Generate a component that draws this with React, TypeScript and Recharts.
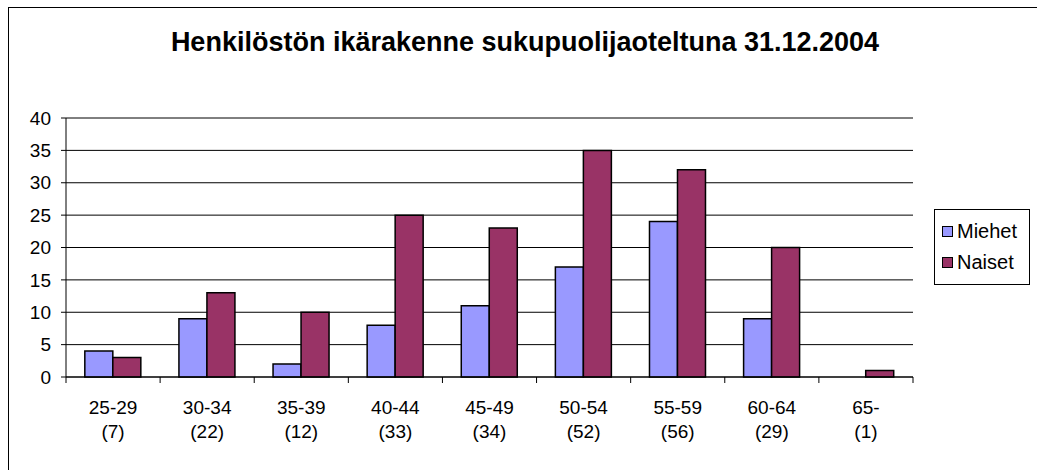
import React from "react";
import { BarChart, Bar, XAxis, YAxis, CartesianGrid, ReferenceLine } from "recharts";

const ageGroups = ["25-29", "30-34", "35-39", "40-44", "45-49", "50-54", "55-59", "60-64", "65-"];
const groupTotals = [7, 22, 12, 33, 34, 52, 56, 29, 1];
const miehet = [4, 9, 2, 8, 11, 17, 24, 9, 0];
const naiset = [3, 13, 10, 25, 23, 35, 32, 20, 1];
const yTicks = [0, 5, 10, 15, 20, 25, 30, 35, 40];

const data = ageGroups.map((group, i) => ({
    group,
    total: groupTotals[i],
    Miehet: miehet[i],
    Naiset: naiset[i],
}));

const WIDTH = 1037;
const HEIGHT = 470;
const Y_AXIS_WIDTH = 60;
const X_AXIS_HEIGHT = 30;
// plot area in the reference: x 66..913, y 118..377
const margin = { top: 118, right: 124, bottom: 93 - X_AXIS_HEIGHT, left: 66 - Y_AXIS_WIDTH };
const band = (WIDTH - 66 - margin.right) / ageGroups.length;
const font = "'Liberation Sans', Arial, sans-serif";

const colors = { Miehet: "#9999FF", Naiset: "#993366" };

// x-axis tick: Excel style, tick marks sit between the categories
const AgeTick = (props: any) => {
    const { x, y, payload, index } = props;
    const isLast = index === ageGroups.length - 1;
    return (
        <g>
            <line x1={x - band / 2} x2={x - band / 2} y1={y} y2={y + 6} stroke="#000" />
            {isLast && <line x1={x + band / 2} x2={x + band / 2} y1={y} y2={y + 6} stroke="#000" />}
            <text x={x} y={y + 37} textAnchor="middle" fontSize={19} fill="#000" fontFamily={font}>
                {payload.value}
            </text>
            <text x={x} y={y + 61} textAnchor="middle" fontSize={19} fill="#000" fontFamily={font}>
                ({groupTotals[index]})
            </text>
        </g>
    );
};

const LegendBox = () => (
    <div
        style={{
            position: "absolute",
            left: 934,
            top: 209,
            border: "1px solid #000",
            width: 96,
            height: 76,
            boxSizing: "border-box",
            background: "#fff",
            fontFamily: font,
            fontSize: 20,
            padding: "6px 0 0 7px",
            color: "#000",
        }}
    >
        {(["Miehet", "Naiset"] as const).map((name) => (
            <div key={name} style={{ display: "flex", alignItems: "center", height: 31 }}>
                <span
                    style={{
                        display: "inline-block",
                        width: 9,
                        height: 9,
                        border: "1.5px solid #000",
                        background: colors[name],
                        marginRight: 4,
                    }}
                />
                {name}
            </div>
        ))}
    </div>
);

export default function App() {
    return (
        <div style={{ position: "absolute", left: 0, top: 0, width: WIDTH, height: HEIGHT, overflow: "hidden", background: "#fff" }}>
            {/* outer chart border */}
            <div style={{ position: "absolute", left: 8, top: 7, width: 1100, height: 500, borderLeft: "1px solid #000", borderTop: "1px solid #000" }} />
            <div
                style={{
                    position: "absolute",
                    left: 0,
                    width: 1050,
                    top: 27,
                    textAlign: "center",
                    fontFamily: font,
                    fontWeight: "bold",
                    fontSize: 27,
                    color: "#000",
                }}
            >
                Henkilöstön ikärakenne sukupuolijaoteltuna 31.12.2004
            </div>
            <div style={{ position: "absolute", left: 0, top: 0 }}>
                <BarChart width={WIDTH} height={HEIGHT} data={data} margin={margin} barCategoryGap="20%" barGap={0}>
                    <CartesianGrid vertical={false} stroke="#000" />
                    <XAxis
                        dataKey="group"
                        height={X_AXIS_HEIGHT}
                        interval={0}
                        tickSize={0}
                        tickMargin={0}
                        tickLine={false}
                        axisLine={{ stroke: "#000" }}
                        tick={AgeTick}
                    />
                    <YAxis
                        yAxisId={0}
                        width={Y_AXIS_WIDTH}
                        domain={[0, 40]}
                        ticks={yTicks}
                        interval={0}
                        tickSize={5}
                        tickMargin={10}
                        axisLine={{ stroke: "#000" }}
                        tickLine={{ stroke: "#000" }}
                        tick={{ fontSize: 19, fill: "#000", fontFamily: font }}
                    />
                    <YAxis yAxisId="right" orientation="right" domain={[0, 40]} tick={false} tickLine={false} width={0} axisLine={{ stroke: "#808080" }} />
                    <ReferenceLine y={40} stroke="#808080" />
                    <Bar dataKey="Miehet" fill={colors.Miehet} stroke="#000" strokeWidth={1.5} isAnimationActive={false} />
                    <Bar dataKey="Naiset" fill={colors.Naiset} stroke="#000" strokeWidth={1.5} isAnimationActive={false} />
                </BarChart>
            </div>
            <LegendBox />
        </div>
    );
}
